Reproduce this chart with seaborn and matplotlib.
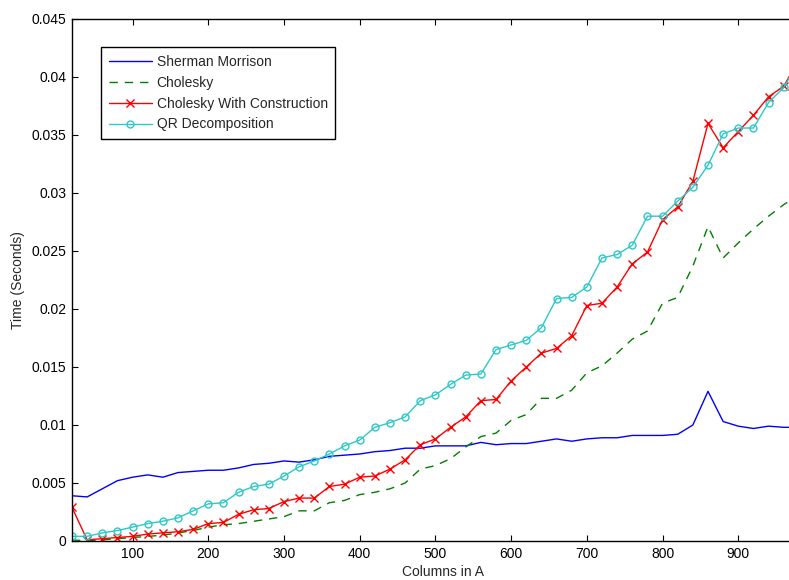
"""Timing comparison of update methods (columns in A vs time)."""
import matplotlib
matplotlib.use("Agg")
import matplotlib.pyplot as plt
import numpy as np
import pandas as pd
import seaborn as sns
from matplotlib.ticker import FuncFormatter

sns.set_theme(style="ticks")
plt.rcParams["font.family"] = ["Liberation Sans", "DejaVu Sans"]

columns = list(range(20, 1000, 20))

sherman_morrison = [
    0.0039, 0.0038, 0.0045, 0.0052, 0.0055, 0.0057, 0.0055, 0.0059, 0.0060, 0.0061,
    0.0061, 0.0063, 0.0066, 0.0067, 0.0069, 0.0068, 0.0070, 0.0073, 0.0074, 0.0075,
    0.0077, 0.0078, 0.0080, 0.0080, 0.0082, 0.0082, 0.0082, 0.0085, 0.0083, 0.0084,
    0.0084, 0.0086, 0.0088, 0.0086, 0.0088, 0.0089, 0.0089, 0.0091, 0.0091, 0.0091,
    0.0092, 0.0100, 0.0129, 0.0103, 0.0099, 0.0097, 0.0099, 0.0098, 0.0098,
]
cholesky = [
    0.0001, 0.0000, 0.0001, 0.0002, 0.0003, 0.0004, 0.0005, 0.0007, 0.0009, 0.0012,
    0.0014, 0.0015, 0.0017, 0.0019, 0.0021, 0.0026, 0.0026, 0.0033, 0.0035, 0.0040,
    0.0042, 0.0045, 0.0050, 0.0062, 0.0065, 0.0071, 0.0081, 0.0090, 0.0093, 0.0104,
    0.0109, 0.0123, 0.0123, 0.0130, 0.0145, 0.0151, 0.0162, 0.0174, 0.0181, 0.0205,
    0.0210, 0.0237, 0.0271, 0.0244, 0.0257, 0.0269, 0.0280, 0.0290, 0.0298,
]
cholesky_construction = [
    0.0029, 0.0001, 0.0002, 0.0003, 0.0004, 0.0006, 0.0007, 0.0008, 0.0010, 0.0015,
    0.0016, 0.0023, 0.0027, 0.0028, 0.0034, 0.0037, 0.0037, 0.0047, 0.0049, 0.0055,
    0.0056, 0.0062, 0.0070, 0.0083, 0.0088, 0.0098, 0.0107, 0.0121, 0.0122, 0.0138,
    0.0150, 0.0162, 0.0166, 0.0177, 0.0203, 0.0205, 0.0219, 0.0239, 0.0249, 0.0277,
    0.0288, 0.0310, 0.0360, 0.0339, 0.0353, 0.0367, 0.0383, 0.0392, 0.0415,
]
qr_decomposition = [
    0.0004, 0.0004, 0.0007, 0.0009, 0.0012, 0.0015, 0.0017, 0.0020, 0.0026, 0.0032,
    0.0033, 0.0042, 0.0047, 0.0049, 0.0056, 0.0064, 0.0069, 0.0075, 0.0082, 0.0087,
    0.0098, 0.0102, 0.0107, 0.0121, 0.0126, 0.0135, 0.0143, 0.0144, 0.0165, 0.0169,
    0.0173, 0.0184, 0.0209, 0.0210, 0.0219, 0.0244, 0.0247, 0.0255, 0.0280, 0.0280,
    0.0293, 0.0305, 0.0324, 0.0351, 0.0356, 0.0356, 0.0378, 0.0391, 0.0413,
]

labels = ["Sherman Morrison", "Cholesky", "Cholesky With Construction", "QR Decomposition"]
series = [sherman_morrison, cholesky, cholesky_construction, qr_decomposition]

df = pd.concat(
    [pd.DataFrame({"cols": columns, "time": vals, "method": name})
     for name, vals in zip(labels, series)],
    ignore_index=True,
)

palette = {
    "Sherman Morrison": "#0000ff",
    "Cholesky": "#007f00",
    "Cholesky With Construction": "#ff0000",
    "QR Decomposition": "#2ec8c8",
}
styles = {
    "Sherman Morrison": dict(ls="-", marker=None),
    "Cholesky": dict(ls=(0, (6, 5)), marker=None),
    "Cholesky With Construction": dict(ls="-", marker="x"),
    "QR Decomposition": dict(ls="-", marker="o"),
}

fig = plt.figure(figsize=(7.89, 5.8), dpi=100)
# axes run past the right edge, as in the cropped original
ax = fig.add_axes([72 / 789, 39 / 580, 742 / 789, 522 / 580])

for name in labels:
    sub = df[df["method"] == name]
    st = styles[name]
    sns.lineplot(
        data=sub, x="cols", y="time", ax=ax, color=palette[name], lw=1.0,
        linestyle=st["ls"], marker=st["marker"], markersize=5 if st["marker"] == "o" else 6,
        markerfacecolor="none", markeredgecolor=palette[name], markeredgewidth=1.0,
        label=name, estimator=None, errorbar=None,
    )

ax.set_xlim(20, 1000)
ax.set_ylim(0, 0.045)
ax.set_xticks(range(100, 1000, 100))
ax.set_yticks(np.arange(0, 0.0451, 0.005))
ax.yaxis.set_major_formatter(FuncFormatter(lambda v, _: f"{v:g}"))
ax.tick_params(direction="in", length=4, width=0.8, labelsize=10, pad=4,
               top=True, colors="black")
for s in ax.spines.values():
    s.set_color("black")
    s.set_linewidth(1.0)

ax.set_xlabel("Columns in A", fontsize=10, labelpad=3)
ax.set_ylabel("Time (Seconds)", fontsize=10, labelpad=5)

leg = ax.legend(
    loc="upper left", bbox_to_anchor=(101 / 789, 1 - 47 / 580),
    bbox_transform=fig.transFigure, borderaxespad=0, fontsize=10,
    handlelength=3.1, handletextpad=0.35, labelspacing=0.5, borderpad=0.55,
    fancybox=False, framealpha=1, edgecolor="black",
)
leg.get_frame().set_linewidth(1.0)

fig.savefig("out.png", dpi=100)
plt.close(fig)
